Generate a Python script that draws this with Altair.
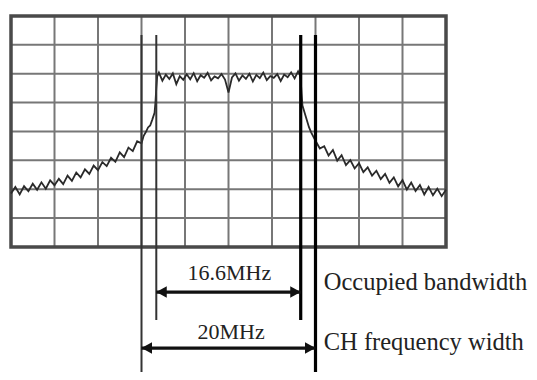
import altair as alt
import pandas as pd

# ---- spectrum trace (MHz offset, dB) ----
trace_x = [-25, -24.5, -24, -23.5, -23, -22.5, -22, -21.5, -21, -20.5, -20, -19.5, -19, -18.5, -18,
           -17.5, -17, -16.5, -16, -15.5, -15, -14.5, -14, -13.5, -13, -12.5, -12, -11.5, -11, -10.5, -10,
           -9.75, -9.5, -9.25, -9.0, -8.75, -8.5, -8.4, -8.3, -8.2,
           -8.0, -7.6, -7.2, -6.8, -6.4, -6.0, -5.6, -5.2, -4.8, -4.4, -4.0, -3.6, -3.2, -2.8, -2.4, -2.0,
           -1.6, -1.2, -0.8, -0.4, 0, 0.4, 0.8, 1.2, 1.6, 2.0, 2.4, 2.8, 3.2, 3.6, 4.0, 4.4, 4.8, 5.2, 5.6,
           6.0, 6.4, 6.8, 7.2, 7.6, 8.0, 8.2,
           8.3, 8.4, 8.5, 8.75, 9.0, 9.25, 9.5, 9.75, 10,
           10.5, 11, 11.5, 12, 12.5, 13, 13.5, 14, 14.5, 15, 15.5, 16, 16.5, 17, 17.5, 18, 18.5, 19, 19.5,
           20, 20.5, 21, 21.5, 22, 22.5, 23, 23.5, 24, 24.5, 25]
trace_y = [-61.5, -59.2, -61.8, -58.9, -60.7, -58.1, -60.2, -57.6, -59.8, -56.9, -58.6, -56.4, -58.2, -55.3, -57.1,
           -54.2, -55.9, -53.1, -54.7, -51.8, -53.4, -50.6, -52.0, -49.1, -50.5, -47.2, -48.9, -45.6, -46.8, -43.4, -44.1,
           -41.5, -40.2, -38.6, -37.9, -35.8, -33.5, -30.0, -25.0, -21.0,
           -19.6, -22.4, -20.3, -21.8, -19.9, -23.6, -20.8, -22.1, -20.2, -21.9, -19.8, -22.6, -20.5, -21.4, -19.7, -22.3,
           -20.9, -21.6, -20.1, -22.0, -26.5, -21.3, -19.9, -22.4, -20.6, -21.8, -20.0, -22.7, -20.4, -21.5, -19.6, -22.2,
           -20.8, -21.4, -20.1, -22.5, -20.3, -21.2, -19.5, -21.6, -19.2, -20.5,
           -22.0, -27.0, -31.0, -33.5, -36.0, -38.5, -40.3, -41.8, -43.2,
           -45.9, -45.1, -48.3, -46.4, -50.1, -48.2, -51.6, -49.9, -52.8, -51.0, -54.1, -52.4, -55.3, -53.6, -56.5,
           -54.7, -57.8, -55.9, -59.0, -56.8, -60.1, -57.7, -60.6, -58.5, -61.8, -59.2, -62.1, -59.8, -62.4, -60.2]

# ---- graticule ----
grid_x = [-25, -20, -15, -10, -5, 0, 5, 10, 15, 20, 25]
grid_y = [0, -10, -20, -30, -40, -50, -60, -70, -80]

# ---- markers / annotations ----
marker_x = [-10, -8.3, 8.3, 10]
marker_top = [-6.6, -6.6, -6.6, -6.6]
marker_bottom = [-123.3, -105.3, -105.3, -123.3]
marker_group = ["left", "left", "right", "right"]

arrow_labels = ["16.6MHz", "20MHz"]
arrow_from = [-8.3, -10]
arrow_to = [8.3, 10]
arrow_y = [-95.6, -115.0]
label_x = [0.1, 0.3]
label_y = [-89.0, -109.4]

side_labels = ["Occupied bandwidth", "CH frequency width"]
side_x = [10.95, 10.95]
side_y = [-92.5, -113.3]

# ---- scales mapping the picture ----
W, H = 521, 364
xs = alt.Scale(domain=[-25.345, -25.345 + W / 8.7], nice=False, zero=False)
ys = alt.Scale(domain=[2.77 - H / 2.8875, 2.77], nice=False, zero=False)
X = lambda f: alt.X(f, type="quantitative", scale=xs, axis=None)
Y = lambda f: alt.Y(f, type="quantitative", scale=ys, axis=None)

trace = pd.DataFrame({"x": trace_x, "y": trace_y})
gx = pd.DataFrame({"x": grid_x, "y0": [grid_y[0]] * len(grid_x), "y1": [grid_y[-1]] * len(grid_x)})
gy = pd.DataFrame({"y": grid_y, "x0": [grid_x[0]] * len(grid_y), "x1": [grid_x[-1]] * len(grid_y)})
frame = pd.DataFrame({"x0": [grid_x[0]], "x1": [grid_x[-1]], "y0": [grid_y[-1]], "y1": [grid_y[0]]})
markers = pd.DataFrame({"x": marker_x, "y0": marker_top, "y1": marker_bottom, "g": marker_group})
arrows = pd.DataFrame({"label": arrow_labels, "x0": arrow_from, "x1": arrow_to, "y": arrow_y,
                       "lx": label_x, "ly": label_y})
heads_l = pd.DataFrame({"x": arrow_from, "y": arrow_y})
heads_r = pd.DataFrame({"x": arrow_to, "y": arrow_y})
sides = pd.DataFrame({"label": side_labels, "x": side_x, "y": side_y})

grid_v = alt.Chart(gx).mark_rule(color="#777777", strokeWidth=2).encode(x=X("x"), y=Y("y0"), y2="y1")
grid_h = alt.Chart(gy).mark_rule(color="#777777", strokeWidth=2).encode(y=Y("y"), x=X("x0"), x2="x1")
border = alt.Chart(frame).mark_rect(filled=False, stroke="#4a4a4a", strokeWidth=3.5).encode(
    x=X("x0"), x2="x1", y=Y("y0"), y2="y1")
line = alt.Chart(trace).mark_line(color="#2a2a2a", strokeWidth=1.8).encode(x=X("x"), y=Y("y"))

mk = alt.Chart(markers).mark_rule().encode(
    x=X("x"), y=Y("y0"), y2="y1",
    strokeWidth=alt.StrokeWidth("g:N", scale=alt.Scale(domain=["left", "right"], range=[2, 3.2]), legend=None),
    color=alt.Color("g:N", scale=alt.Scale(domain=["left", "right"], range=["#333333", "#000000"]), legend=None),
)
arr = alt.Chart(arrows).mark_rule(color="#111111", strokeWidth=3.2).encode(x=X("x0"), x2="x1", y=Y("y"))
hl = alt.Chart(heads_l).mark_point(shape="M0,0L2,-1.1L2,1.1Z", filled=True, size=110, color="#111111",
                                   opacity=1).encode(x=X("x"), y=Y("y"))
hr = alt.Chart(heads_r).mark_point(shape="M0,0L-2,-1.1L-2,1.1Z", filled=True, size=110, color="#111111",
                                   opacity=1).encode(x=X("x"), y=Y("y"))
arr_txt = alt.Chart(arrows).mark_text(font="Liberation Serif", fontSize=22, color="#222222",
                                      baseline="middle", align="center").encode(
    x=X("lx"), y=Y("ly"), text="label:N")
side_txt = alt.Chart(sides).mark_text(font="Liberation Serif", fontSize=24.5, color="#222222",
                                      baseline="middle", align="left").encode(
    x=X("x"), y=Y("y"), text="label:N")

chart = alt.layer(grid_v, grid_h, border, line, mk, arr, hl, hr, arr_txt, side_txt).properties(
    width=W, height=H, autosize="none", padding=0
).configure_view(stroke=None)

chart.save("out.html", embed_options={"renderer": "svg", "actions": False})
